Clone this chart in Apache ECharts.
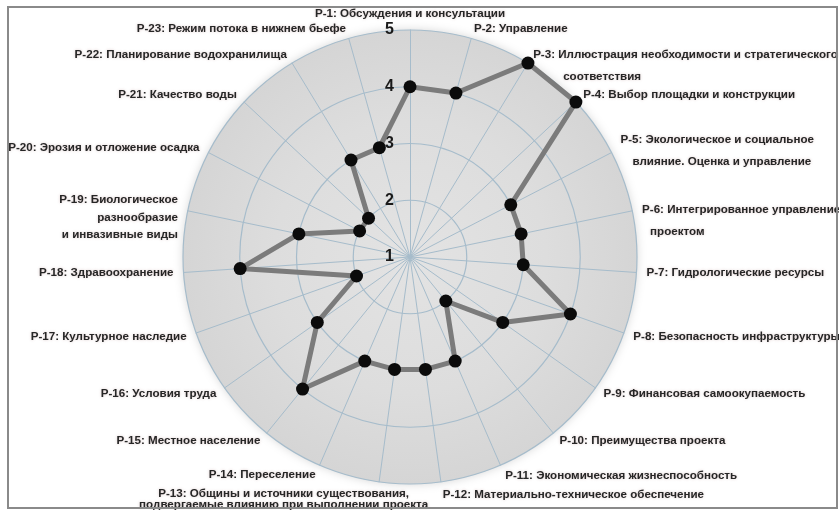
<!DOCTYPE html>
<html><head><meta charset="utf-8">
<script src="https://cdn.jsdelivr.net/npm/echarts@6/dist/echarts.min.js"></script>
<style>html,body{margin:0;padding:0;background:#fff}#c{width:839px;height:510px}</style>
</head><body><div id="c"></div>
<script>
// ---- data ----
const categories = [
  'P-1: Обсуждения и консультации',
  'P-2: Управление',
  'P-3: Иллюстрация необходимости и стратегического\nсоответствия',
  'P-4: Выбор площадки и конструкции',
  'P-5: Экологическое и социальное\nвлияние. Оценка и управление',
  'P-6: Интегрированное управление\nпроектом',
  'P-7: Гидрологические ресурсы',
  'P-8: Безопасность инфраструктуры',
  'P-9: Финансовая самоокупаемость',
  'P-10: Преимущества проекта',
  'P-11: Экономическая жизнеспособность',
  'P-12: Материально-техническое обеспечение',
  'P-13: Общины и источники существования,\nподвергаемые влиянию при выполнении проекта',
  'P-14: Переселение',
  'P-15: Местное население',
  'P-16: Условия труда',
  'P-17: Культурное наследие',
  'P-18: Здравоохранение',
  'P-19: Биологическое\nразнообразие\nи инвазивные виды',
  'P-20: Эрозия и отложение осадка',
  'P-21: Качество воды',
  'P-22: Планирование водохранилища',
  'P-23: Режим потока в нижнем бьефе'
];
const scores = [4, 4, 5, 5, 3, 3, 3, 4, 3, 2, 3, 3, 3, 3, 4, 3, 2, 4, 3, 2, 2, 3, 3];
const scaleTicks = [1, 2, 3, 4, 5];

// ---- styling ----
const FONT = {
  fontFamily: '"Liberation Sans", Arial, sans-serif',
  fontWeight: 'bold',
  fontSize: 11.6,
  color: '#262626',
  textShadowColor: 'rgba(150,95,95,0.35)',
  textShadowBlur: 3
};
const NAME_GAP = 10;
const nameTweaks = {
  2:  {lineHeight: 22, padding: [22, 0, 0, 0], indent: 30},
  4:  {lineHeight: 22, padding: [6, 0, 0, 0], indent: 12},
  5:  {lineHeight: 22, padding: [24, 0, 0, 0], indent: 8},
  10: {gap: 12},
  11: {gap: 13},
  12: {lineHeight: 11, padding: [0, 186, 0, 0], align: 'center', gap: 18},
  18: {lineHeight: 17.5, spacerLine: true}
};
const CX = 410, CY = 257, R = 227;

// ECharts radar runs counter-clockwise; reference runs clockwise
const order = [0];
for (let k = categories.length - 1; k >= 1; k--) order.push(k);

const indicator = order.map(k => {
  const t = nameTweaks[k] || {};
  let name = categories[k];
  if (t.indent) {
    const lines = name.split('\n');
    name = lines[0] + '\n{ind|' + lines[1] + '}';
  }
  if (t.spacerLine) name = '\n' + name;
  const ind = {name: name, min: scaleTicks[0], max: scaleTicks[scaleTicks.length - 1]};
  const ns = {};
  if (t.lineHeight) ns.lineHeight = t.lineHeight;
  if (t.padding) ns.padding = t.padding;
  if (t.align) ns.align = t.align;
  if (t.indent) ns.rich = {ind: Object.assign({}, FONT, {padding: [0, 0, 0, t.indent], lineHeight: t.lineHeight})};
  if (Object.keys(ns).length) ind.nameTextStyle = ns;
  if (t.gap != null) ind.nameGap = t.gap;
  if (k === 0) {
    ind.axisLabel = {
      show: true, fontSize: 16, fontWeight: 'bold', color: '#1a1a1a',
      fontFamily: '"Liberation Sans", Arial, sans-serif', margin: 16
    };
  }
  return ind;
});

const chart = echarts.init(document.getElementById('c'), null, {renderer: 'canvas'});
chart.setOption({
  backgroundColor: '#ffffff',
  animation: false,
  graphic: [
    {
      type: 'circle', z: -10, silent: true,
      shape: {cx: CX, cy: CY, r: R},
      style: {
        fill: new echarts.graphic.RadialGradient(0.5, 0.5, 0.5, [
          {offset: 0, color: '#e3e3e3'},
          {offset: 0.6, color: '#dddddd'},
          {offset: 1, color: '#d5d5d5'}
        ]),
        shadowBlur: 10, shadowColor: 'rgba(160,160,160,0.45)'
      }
    },
    {
      type: 'rect', z: 100, silent: true,
      shape: {x: 8, y: 7, width: 829, height: 501},
      style: {fill: 'none', stroke: '#8a8a8a', lineWidth: 2}
    }
  ],
  radar: {
    center: [CX, CY],
    radius: R,
    startAngle: 90,
    shape: 'circle',
    splitNumber: scaleTicks.length - 1,
    indicator: indicator,
    axisNameGap: NAME_GAP,
    axisName: Object.assign({}, FONT),
    axisLine: {show: true, lineStyle: {color: '#a6bccb', width: 1}},
    splitLine: {show: true, lineStyle: {color: '#a6bccb', width: 1.2}},
    splitArea: {show: false},
    axisTick: {show: false},
    axisLabel: {show: false}
  },
  series: [{
    type: 'radar',
    symbol: 'circle',
    symbolSize: 13,
    lineStyle: {color: '#7b7b7b', width: 5},
    itemStyle: {color: '#0b0b0b'},
    data: [{value: order.map(k => scores[k])}]
  }]
});
</script></body></html>
